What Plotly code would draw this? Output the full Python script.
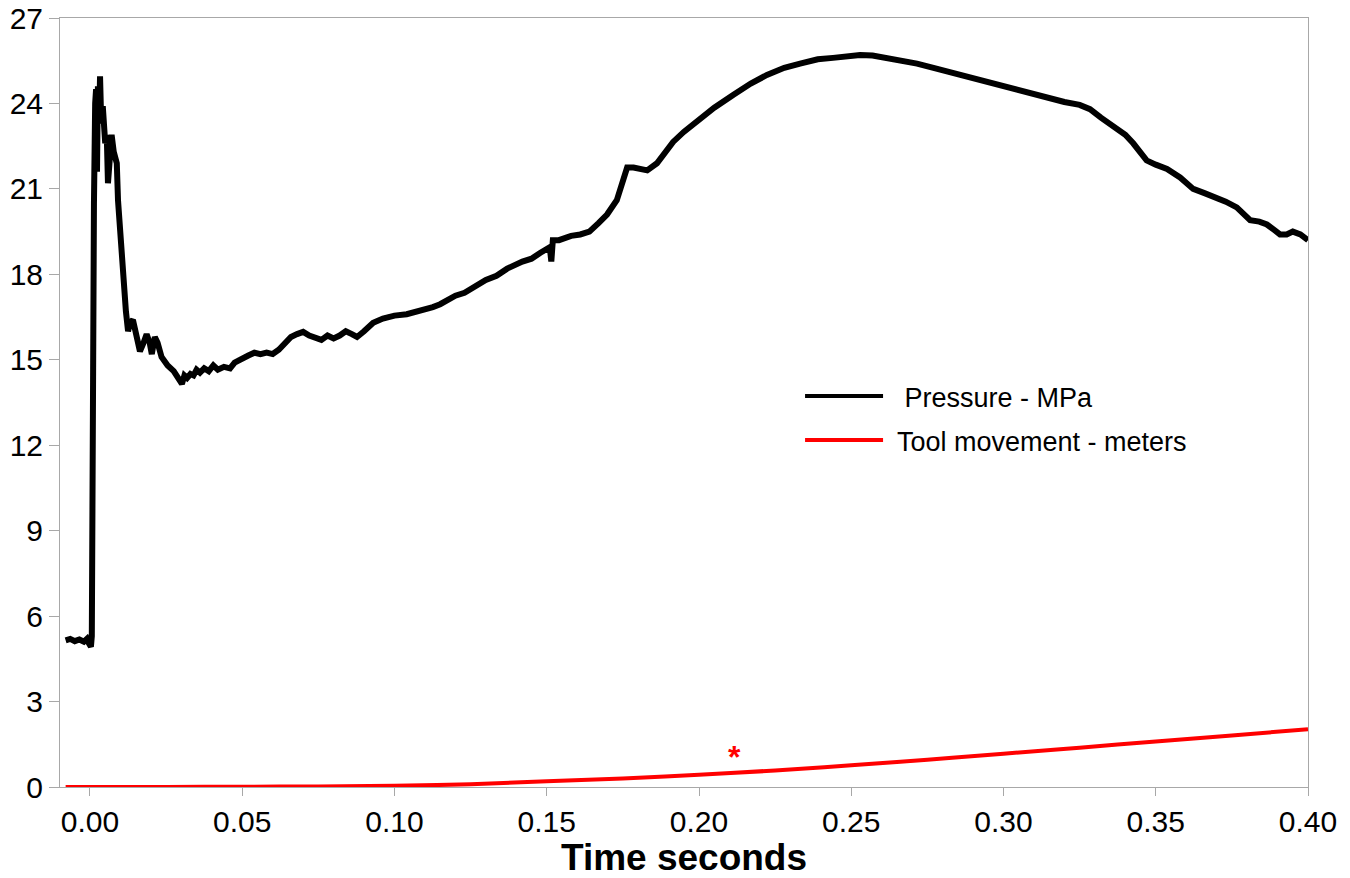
import plotly.graph_objects as go

# Pressure record (MPa) against time (s)
time_p = [
    -0.0080, -0.0065, -0.0050, -0.0035, -0.0020, -0.0010, -0.0004, 0.0003, 0.0006,
    0.0009, 0.0011, 0.0013, 0.0017, 0.0020, 0.0023, 0.0026, 0.0030, 0.0033, 0.0037,
    0.0042, 0.0050, 0.0055, 0.0059, 0.0066, 0.0071, 0.0078, 0.0088, 0.0092, 0.0104,
    0.0118, 0.0125, 0.0132, 0.0141, 0.0150, 0.0164, 0.0176, 0.0186, 0.0196, 0.0203,
    0.0213, 0.0222, 0.0235, 0.0255, 0.0275, 0.0286, 0.0295, 0.0302, 0.0310, 0.0319,
    0.0330, 0.0340, 0.0350, 0.0361, 0.0375, 0.0390, 0.0405, 0.0420, 0.0440, 0.0460,
    0.0475, 0.0490, 0.0505, 0.0520, 0.0540, 0.0560, 0.0580, 0.0600, 0.0620, 0.0640,
    0.0660, 0.0680, 0.0700, 0.0720, 0.0740, 0.0760, 0.0780, 0.0800, 0.0820, 0.0840,
    0.0860, 0.0877, 0.0900, 0.0930, 0.0962, 0.1000, 0.1040, 0.1080, 0.1126, 0.1150,
    0.1200, 0.1230, 0.1259, 0.1300, 0.1335, 0.1370, 0.1420, 0.1450, 0.1478, 0.1510,
    0.1515, 0.1520, 0.1540, 0.1580, 0.1610, 0.1640, 0.1670, 0.1698, 0.1730, 0.1748,
    0.1764, 0.1785, 0.1806, 0.1830, 0.1862, 0.1890, 0.1915, 0.1950, 0.2003, 0.2050,
    0.2112, 0.2170, 0.2223, 0.2280, 0.2332, 0.2390, 0.2440, 0.2490, 0.2529, 0.2570,
    0.2604, 0.2660, 0.2716, 0.2770, 0.2824, 0.2880, 0.2930, 0.2990, 0.3031, 0.3090,
    0.3140, 0.3200, 0.3250, 0.3284, 0.3320, 0.3360, 0.3400, 0.3426, 0.3450, 0.3470,
    0.3500, 0.3537, 0.3580, 0.3623, 0.3660, 0.3688, 0.3730, 0.3766, 0.3790, 0.3810,
    0.3840, 0.3865, 0.3890, 0.3908, 0.3930, 0.3950, 0.3975, 0.4000,
]
pressure_mpa = [
    5.15, 5.20, 5.12, 5.18, 5.10, 5.20, 5.05, 4.92, 5.30,
    20.3, 18.2, 20.5, 24.0, 24.5, 21.6, 24.6, 23.4, 24.95, 23.3,
    23.9, 22.6, 22.9, 21.2, 22.6, 22.9, 22.3, 21.9, 20.6, 18.5,
    16.7, 16.0, 16.3, 16.4, 15.9, 15.3, 15.6, 15.9, 15.6, 15.2,
    15.8, 15.6, 15.1, 14.8, 14.6, 14.45, 14.3, 14.15, 14.45, 14.36,
    14.5, 14.45, 14.65, 14.55, 14.7, 14.6, 14.8, 14.65, 14.75, 14.7,
    14.9, 15.0, 15.1, 15.15, 15.25, 15.2, 15.25, 15.2, 15.35, 15.6,
    15.8, 15.9, 15.98, 15.85, 15.75, 15.7, 15.85, 15.75, 15.85, 16.0,
    15.9, 15.8, 16.0, 16.3, 16.45, 16.55, 16.6, 16.7, 16.85, 16.95,
    17.25, 17.35, 17.55, 17.8, 17.95, 18.2, 18.45, 18.55, 18.75, 18.95,
    18.45, 19.2, 19.2, 19.35, 19.4, 19.5, 19.8, 20.1, 20.6, 21.3,
    21.75, 21.75, 21.7, 21.65, 21.9, 22.3, 22.65, 23.0, 23.45, 23.85,
    24.3, 24.7, 25.0, 25.25, 25.4, 25.55, 25.6, 25.68, 25.7, 25.68,
    25.62, 25.52, 25.4, 25.25, 25.1, 24.95, 24.8, 24.65, 24.55, 24.35,
    24.2, 24.05, 23.95, 23.8, 23.5, 23.2, 22.9, 22.6, 22.3, 22.0,
    21.85, 21.7, 21.4, 21.0, 20.85, 20.75, 20.55, 20.35, 20.1, 19.9,
    19.85, 19.75, 19.55, 19.4, 19.4, 19.5, 19.4, 19.2,
]

# Tool movement (m) against time (s)
time_tool = [-0.008, 0.0, 0.025, 0.05, 0.075, 0.10, 0.125, 0.15, 0.175,
             0.20, 0.225, 0.25, 0.275, 0.30, 0.325, 0.35, 0.375, 0.40]
tool_m = [0.0, 0.0, 0.0, 0.01, 0.02, 0.04, 0.10, 0.20, 0.30,
          0.43, 0.58, 0.76, 0.96, 1.17, 1.38, 1.60, 1.81, 2.03]

# Marked point on the tool-movement record
star_t = 0.2115
star_y = 1.05

x_ticks = [0.00, 0.05, 0.10, 0.15, 0.20, 0.25, 0.30, 0.35, 0.40]
y_ticks = [0, 3, 6, 9, 12, 15, 18, 21, 24, 27]

legend_names = [" Pressure - MPa", "Tool movement - meters"]
legend_colors = ["black", "#ff0000"]

FONT = "Liberation Sans, Arial, Helvetica, sans-serif"
AXIS_GREY = "#a8a8a8"

fig = go.Figure()
fig.add_trace(go.Scatter(
    x=time_p, y=pressure_mpa, mode="lines", name=legend_names[0],
    line=dict(color=legend_colors[0], width=6), showlegend=False,
))
fig.add_trace(go.Scatter(
    x=time_tool, y=tool_m, mode="lines", name=legend_names[1],
    line=dict(color=legend_colors[1], width=4, shape="spline"), showlegend=False,
))

# Legend drawn as line samples plus labels
legend_rows = [0.5085, 0.4512]
for name, color, yrow in zip(legend_names, legend_colors, legend_rows):
    fig.add_shape(type="line", xref="paper", yref="paper",
                  x0=0.5970, x1=0.6595, y0=yrow, y1=yrow,
                  line=dict(color=color, width=4))
    fig.add_annotation(xref="paper", yref="paper", x=0.6690, y=yrow - 0.002,
                       xanchor="left", yanchor="middle", text=name, showarrow=False,
                       font=dict(family=FONT, size=27, color="black"))

fig.add_annotation(x=star_t, y=star_y, text="<b>*</b>", showarrow=False,
                   font=dict(family=FONT, size=32, color="#ff0000"),
                   xanchor="center", yanchor="middle")

fig.update_layout(
    width=1350, height=878,
    margin=dict(l=60, r=42, t=18, b=91),
    paper_bgcolor="white", plot_bgcolor="white",
    font=dict(family=FONT, color="black"),
)
fig.update_xaxes(
    range=[-0.00985, 0.40], tickvals=x_ticks, ticktext=[f"{v:.2f}" for v in x_ticks],
    showgrid=False, zeroline=False, showline=True, linecolor=AXIS_GREY, linewidth=1,
    mirror=True, ticks="outside", ticklen=8, tickcolor=AXIS_GREY, automargin=False,
    tickfont=dict(family=FONT, size=30),
    title=dict(text="<b>Time seconds</b>", font=dict(family=FONT, size=37), standoff=2),
)
fig.update_yaxes(
    range=[0, 27], tickvals=y_ticks, automargin=False,
    showgrid=False, zeroline=False, showline=True, linecolor=AXIS_GREY, linewidth=1,
    mirror=True, ticks="outside", ticklen=10, tickcolor=AXIS_GREY,
    tickfont=dict(family=FONT, size=30),
)

fig.write_html("out.html")
